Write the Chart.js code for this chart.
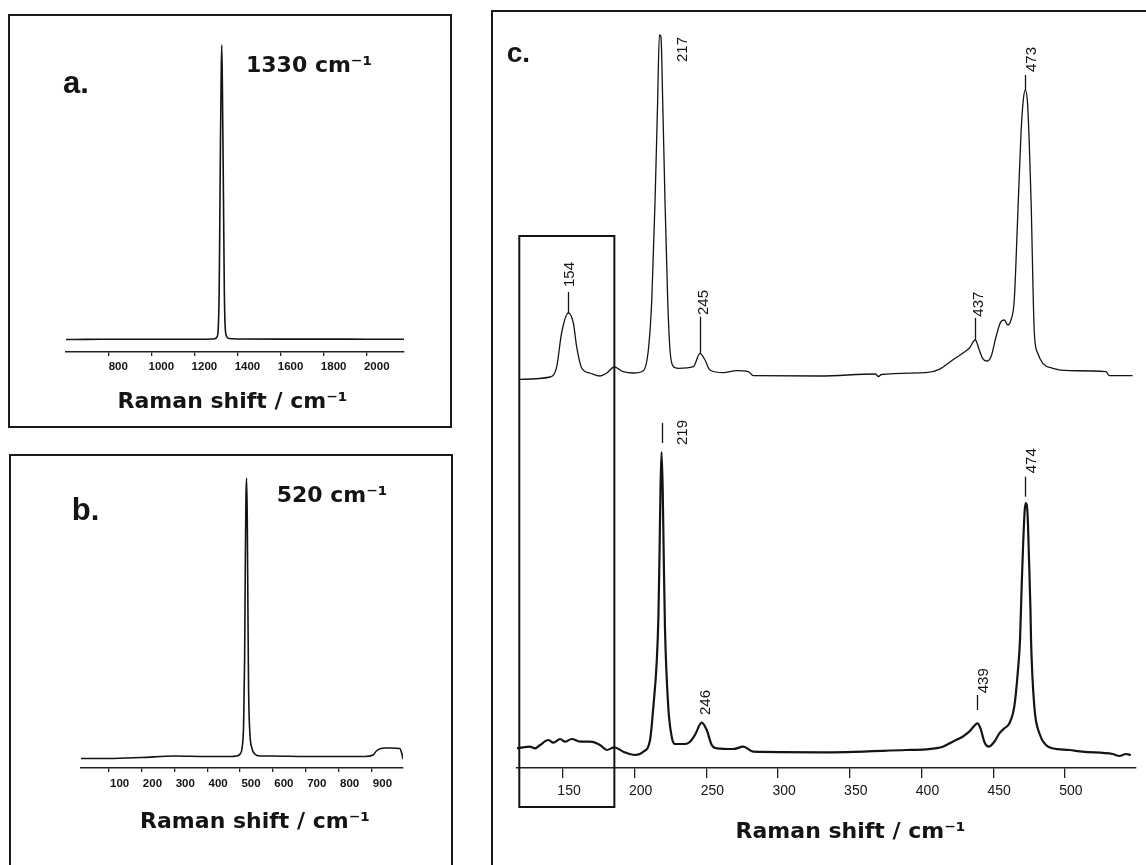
<!DOCTYPE html>
<html>
<head>
<meta charset="utf-8">
<script src="https://cdn.jsdelivr.net/npm/chart.js@4.4.1/dist/chart.umd.min.js"></script>
<style>
  html, body { margin: 0; padding: 0; background: #fff; }
  body { width: 1146px; height: 865px; position: relative; overflow: hidden; }
  .panel { position: absolute; box-sizing: border-box; border: 2px solid #1a1a1a; background: #fff; }
  .panel canvas { position: absolute; left: 0; top: 0; }
  #panelA { left: 8px; top: 14px; width: 444px; height: 414px; }
  #panelB { left: 9px; top: 454px; width: 444px; height: 420px; }
  #panelC { left: 491px; top: 10px; width: 664px; height: 870px; }
</style>
</head>
<body>
<div class="panel" id="panelA"><canvas id="chartA" width="440" height="410"></canvas></div>
<div class="panel" id="panelB"><canvas id="chartB" width="440" height="416"></canvas></div>
<div class="panel" id="panelC"><canvas id="chartC" width="660" height="866"></canvas></div>
<script>
// a. diamond reference spectrum
const A_SHIFT = [604, 700, 900, 1100, 1250, 1290, 1305, 1311, 1315, 1318, 1321, 1324, 1327, 1330, 1333, 1336, 1339, 1343, 1349, 1360, 1400, 1600, 1800, 2000, 2173];
const A_INTENSITY = [12.5, 12.6, 12.8, 12.8, 12.8, 13, 15, 25, 60, 130, 210, 270, 307, 265, 200, 130, 60, 25, 16, 13.5, 13, 12.9, 12.9, 12.8, 12.8];
const A_TICKS = [800, 1000, 1200, 1400, 1600, 1800, 2000];

// b. silicon reference spectrum
const B_SHIFT = [16, 100, 200, 300, 400, 470, 490, 500, 507, 511, 514, 516, 518, 520, 522, 524, 526, 530, 536, 545, 560, 600, 700, 800, 880, 905, 915, 925, 940, 960, 986, 992, 996];
const B_INTENSITY = [9.5, 9.5, 10.5, 12, 11.5, 11.5, 12, 14, 22, 45, 110, 200, 270, 290, 250, 160, 80, 35, 20, 14, 12, 12, 11.5, 11.5, 11.5, 13, 17, 19, 20, 20, 19.5, 15, 9];
const B_TICKS = [100, 200, 300, 400, 500, 600, 700, 800, 900];

// c. upper spectrum
const C_TOP_SHIFT = [120, 141, 145.6, 149, 153.7, 157.2, 159.5, 163, 168.8, 175.8, 180.5, 185.8, 192, 199, 206, 209.5, 211.9, 214.2, 216, 217.2, 218.3, 219.5, 221.1, 223, 224.6, 227, 230.4, 240.9, 245.5, 249, 252.5, 261.8, 271, 279.2, 282.7, 329, 368, 370, 372, 403, 412.4, 421.7, 428.7, 433.3, 437.5, 440.3, 442.6, 445.4, 448.5, 452, 455.4, 457.8, 460.1, 462.4, 464.7, 467.1, 469.4, 471, 472.4, 474.1, 476.4, 478.7, 481.1, 484.6, 491.5, 503.1, 528.7, 531, 547.2];
const C_TOP_INTENSITY = [388.7, 391, 401.3, 435, 455, 445, 421.3, 400, 395, 392, 395, 401, 396.3, 395, 397.3, 418, 468, 568, 668, 733, 731.3, 668, 568, 468, 418, 401.3, 399.7, 401.3, 414.7, 408, 398, 395.3, 397.3, 396.3, 392.3, 392, 394, 391.5, 393.5, 395.3, 398.7, 408, 414.7, 419.7, 428, 418, 409.7, 407, 411.3, 431.3, 446.3, 448, 443, 448, 468, 551.3, 634.7, 668, 678, 661.3, 568, 435, 414.7, 404.7, 399.7, 397.3, 396.3, 392.3, 392.3];

// c. lower spectrum
const C_BOT_SHIFT = [117.7, 122.3, 127, 130.5, 134, 139.8, 143.2, 148, 151.4, 156, 161.9, 168.8, 175.8, 180.5, 185.8, 192, 200.2, 206, 210.7, 213, 215.3, 216.5, 217.3, 218, 218.7, 219.5, 220.2, 221.1, 223.4, 225.8, 228.1, 235, 238.6, 242, 246.7, 250.2, 253.7, 257.2, 268.8, 275.7, 282.7, 329.2, 389.2, 403, 414.8, 421.7, 428.7, 433.3, 439.2, 441.5, 443.8, 446.9, 450.8, 454.3, 457.8, 461.3, 464.7, 467.1, 468.7, 470, 471, 472, 472.8, 474, 475, 476, 476.4, 478.7, 482.2, 486.8, 491.5, 503.1, 512.4, 533.3, 538, 542.6, 546];
const C_BOT_INTENSITY = [19.7, 20.7, 21.3, 19.7, 23, 28, 25.3, 29, 26.3, 29, 26.3, 26.3, 23, 18, 20.7, 16.3, 13, 16.3, 28, 61.3, 105, 150, 215, 280, 316, 280, 215, 140, 61.3, 31.3, 24, 24, 26.3, 33, 45.3, 38, 23, 19.7, 19, 21.3, 16.3, 15.7, 18, 18.7, 21.3, 26.3, 31.3, 36.3, 44.7, 38, 26.3, 21.3, 26.3, 34.7, 39.7, 44.7, 61.3, 94.7, 128, 188, 228, 258, 265, 253, 208, 158, 128, 61.3, 34.7, 23, 19.7, 18, 16.3, 14, 12, 14, 13];
const C_TICKS = [150, 200, 250, 300, 350, 400, 450, 500];

// peak annotations of panel c (text, its centre/bottom, optional marker line)
const C_PEAKS = [
  { text: '154', x: 154.9, y: 481, tickX: 153.7, tick: [455, 476] },
  { text: '217', x: 233.7, y: 706 },
  { text: '245', x: 248, y: 453, tickX: 245.5, tick: [414.7, 451.3] },
  { text: '437', x: 440.1, y: 451.3, tickX: 437.5, tick: [428, 450] },
  { text: '473', x: 477.1, y: 696, tickX: 472.4, tick: [678, 693] },
  { text: '219', x: 233.7, y: 323, tickX: 218.8, tick: [325, 345] },
  { text: '246', x: 249.7, y: 53 },
  { text: '439', x: 443.2, y: 74.7, tickX: 438.7, tick: [58, 73] },
  { text: '474', x: 477.1, y: 294.7, tickX: 472.4, tick: [271.3, 291.3] }
];
// region framed in panel c
const C_BOX = { xMin: 119.5, xMax: 185.8, yMin: -39, yMax: 532 };

const INK = '#141414';
const TITLE_FONT = 'bold 22px "DejaVu Sans", sans-serif';
const AXIS_TITLE = 'Raman shift / cm\u207B\u00B9';

const toPoints = (xs, ys) => xs.map((x, i) => ({ x, y: ys[i] }));

// free text on a panel (labels, axis title)
const panelText = {
  id: 'panelText',
  afterDraw(chart, args, opts) {
    const ctx = chart.ctx;
    ctx.save();
    ctx.fillStyle = INK;
    ctx.textBaseline = 'alphabetic';
    for (const t of opts.items || []) {
      ctx.font = t.font;
      ctx.textAlign = t.align || 'left';
      ctx.fillText(t.text, t.x, t.y);
    }
    ctx.restore();
  }
};

// frame and rotated peak labels for panel c
const peakMarks = {
  id: 'peakMarks',
  afterDatasetsDraw(chart, args, opts) {
    const { ctx, scales: { x, y } } = chart;
    ctx.save();
    ctx.strokeStyle = INK;
    ctx.fillStyle = INK;
    const b = opts.box;
    const x0 = x.getPixelForValue(b.xMin), x1 = x.getPixelForValue(b.xMax);
    const y0 = y.getPixelForValue(b.yMax), y1 = y.getPixelForValue(b.yMin);
    ctx.lineWidth = 2;
    ctx.strokeRect(x0, y0, x1 - x0, y1 - y0);

    ctx.lineWidth = 1.3;
    ctx.font = '15px "Liberation Sans", Arial, sans-serif';
    ctx.textAlign = 'left';
    ctx.textBaseline = 'middle';
    for (const p of opts.labels) {
      if (p.tick) {
        const tx = Math.round(x.getPixelForValue(p.tickX)) + 0.5;
        ctx.beginPath();
        ctx.moveTo(tx, y.getPixelForValue(p.tick[0]));
        ctx.lineTo(tx, y.getPixelForValue(p.tick[1]));
        ctx.stroke();
      }
      ctx.save();
      ctx.translate(x.getPixelForValue(p.x), y.getPixelForValue(p.y));
      ctx.rotate(-Math.PI / 2);
      ctx.fillText(p.text, 0, 0);
      ctx.restore();
    }
    ctx.restore();
  }
};

function xScale(min, max, ticks, opt) {
  return {
    type: 'linear',
    min, max,
    afterBuildTicks: (s) => { s.ticks = ticks.map(v => ({ value: v })); },
    afterFit: (s) => { s.height = opt.height; },
    border: { display: true, color: '#222', width: 1.5 },
    grid: { drawOnChartArea: false, drawTicks: true, tickLength: opt.tickLength, color: '#222', lineWidth: 1.3 },
    ticks: {
      color: INK,
      font: opt.font,
      padding: opt.padding,
      labelOffset: opt.labelOffset,
      maxRotation: 0,
      autoSkip: false,
      callback: (v) => String(v)
    }
  };
}

function spectrumChart(id, datasets, x, yMax, padding, extra) {
  return new Chart(document.getElementById(id), {
    type: 'line',
    data: { datasets },
    plugins: extra.plugins,
    options: {
      responsive: false,
      animation: false,
      devicePixelRatio: 1,
      layout: { padding },
      elements: { point: { radius: 0 }, line: { cubicInterpolationMode: 'monotone' } },
      plugins: {
        legend: { display: false },
        tooltip: { enabled: false },
        ...extra.pluginOptions
      },
      scales: {
        x,
        y: { display: false, min: 0, max: yMax }
      }
    }
  });
}

const smallTicks = { family: 'Liberation Sans, Arial, sans-serif', size: 11.5, weight: 'bold' };

spectrumChart('chartA',
  [{ data: toPoints(A_SHIFT, A_INTENSITY), borderColor: INK, borderWidth: 1.6 }],
  xScale(604, 2173, A_TICKS, { height: 74, tickLength: 4, padding: 4, labelOffset: 10, font: smallTicks }),
  322, { left: 56, right: 46, top: 14, bottom: 0 },
  {
    plugins: [panelText],
    pluginOptions: {
      panelText: {
        items: [
          { text: 'a.', x: 53, y: 76.5, font: 'bold 31px "Liberation Sans", Arial, sans-serif' },
          { text: '1330 cm\u207B\u00B9', x: 236, y: 55.7, font: TITLE_FONT },
          { text: AXIS_TITLE, x: 222.5, y: 392, font: TITLE_FONT, align: 'center' }
        ]
      }
    }
  });

spectrumChart('chartB',
  [{ data: toPoints(B_SHIFT, B_INTENSITY), borderColor: INK, borderWidth: 1.6 }],
  xScale(16, 996, B_TICKS, { height: 104, tickLength: 4, padding: 5, labelOffset: 11, font: smallTicks }),
  298, { left: 70, right: 48, top: 14, bottom: 0 },
  {
    plugins: [panelText],
    pluginOptions: {
      panelText: {
        items: [
          { text: 'b.', x: 60.7, y: 64, font: 'bold 31px "Liberation Sans", Arial, sans-serif' },
          { text: '520 cm\u207B\u00B9', x: 265.7, y: 45.7, font: TITLE_FONT },
          { text: AXIS_TITLE, x: 244, y: 372, font: TITLE_FONT, align: 'center' }
        ]
      }
    }
  });

spectrumChart('chartC',
  [
    { data: toPoints(C_TOP_SHIFT, C_TOP_INTENSITY), borderColor: INK, borderWidth: 1.3 },
    { data: toPoints(C_BOT_SHIFT, C_BOT_INTENSITY), borderColor: INK, borderWidth: 2.2 }
  ],
  xScale(117.9, 549.6, C_TICKS, { height: 110, tickLength: 10, padding: 5, labelOffset: 6,
    font: { family: 'Liberation Sans, Arial, sans-serif', size: 14 } }),
  748, { left: 24, right: 17, top: 8, bottom: 0 },
  {
    plugins: [peakMarks, panelText],
    pluginOptions: {
      peakMarks: { box: C_BOX, labels: C_PEAKS },
      panelText: {
        items: [
          { text: 'c.', x: 13.7, y: 49.7, font: 'bold 28px "Liberation Sans", Arial, sans-serif' },
          { text: AXIS_TITLE, x: 357.5, y: 826, font: TITLE_FONT, align: 'center' }
        ]
      }
    }
  });
</script>
</body>
</html>
